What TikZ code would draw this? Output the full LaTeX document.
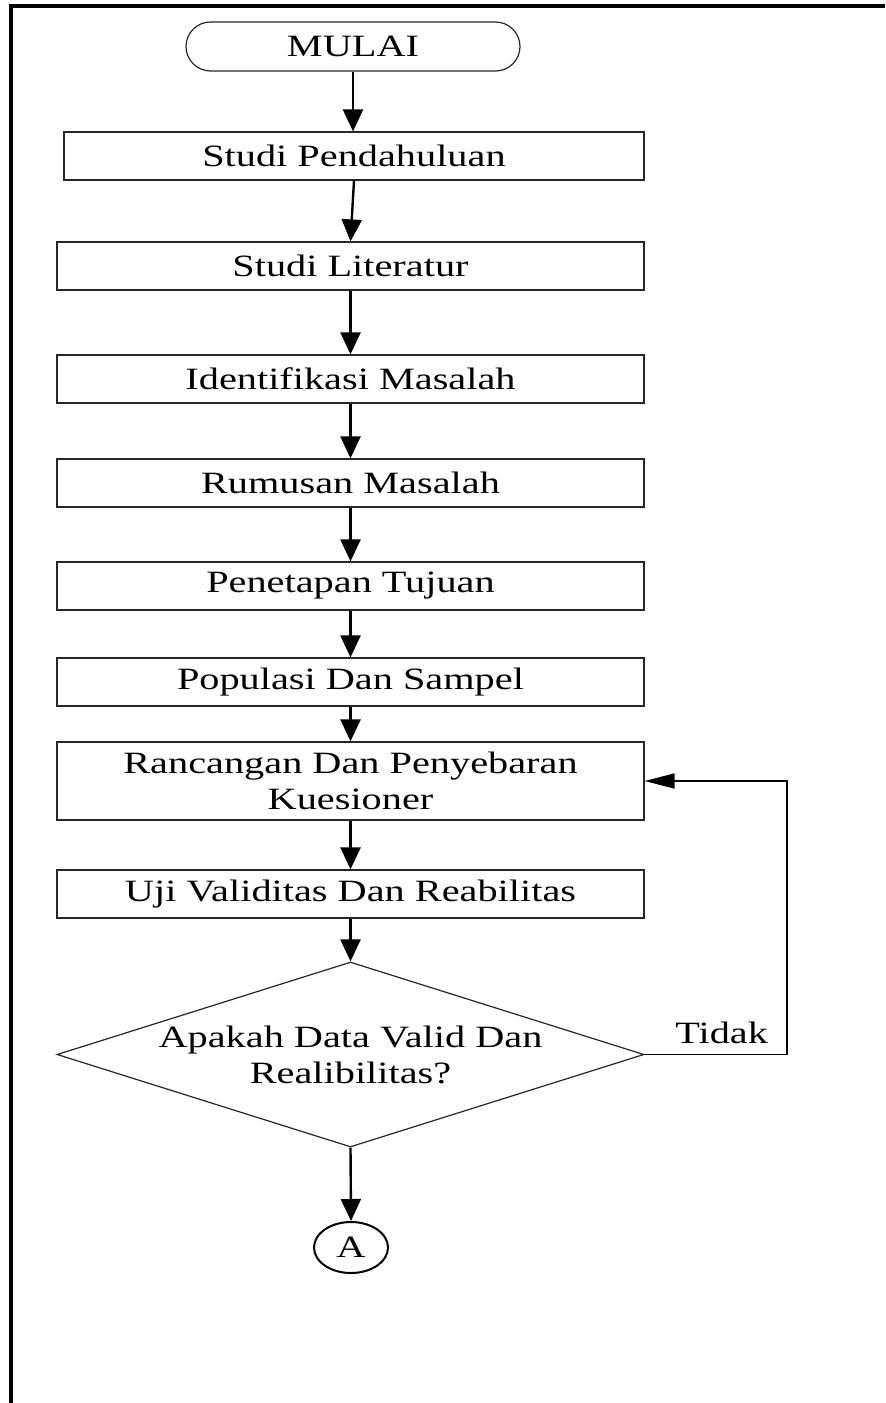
\documentclass[tikz,border=0pt]{standalone}
\usepackage{fontspec}
\setmainfont{Liberation Serif}[FakeStretch=1.3]
\usetikzlibrary{shapes.geometric,arrows.meta,calc}
\begin{document}
\begin{tikzpicture}[x=0.5pt,y=-0.5pt,
  every node/.style={font=\fontsize{15.5}{18}\selectfont},
  box/.style={draw=black!85,line width=0.6pt,rectangle,minimum width=293.5pt,minimum height=24pt,inner sep=0pt,align=center},
  term/.style={draw=black!85,line width=0.6pt,rectangle,rounded corners=12.25pt,minimum width=167pt,minimum height=24.5pt,inner sep=0pt},
  dec/.style={draw=black!85,line width=0.6pt,diamond,aspect=3.17,minimum width=293.5pt,minimum height=92.5pt,inner sep=0pt,align=center},
  conn/.style={draw=black,line width=1pt,ellipse,minimum width=37pt,minimum height=25.5pt,inner sep=0pt},
  flow/.style={-{Triangle[length=11pt,width=10pt]},line width=1.2pt},
  back/.style={-{Triangle[length=15pt,width=7.5pt]},line width=0.8pt}]
\useasboundingbox (0,0) rectangle (885,1403);
\draw[line width=2pt] (11,1403) -- (11,6) -- (885,6);
\node[term] (mulai) at (353,46.5) {MULAI};
\node[box,minimum width=290pt] (sp) at (354,156) {Studi Pendahuluan};
\node[box] (sl) at (350.5,266) {Studi Literatur};
\node[box] (im) at (350.5,379) {Identifikasi Masalah};
\node[box] (rm) at (350.5,483) {Rumusan Masalah};
\node[box] (pt) at (350.5,586) {Penetapan Tujuan};
\node[box] (ps) at (350.5,682) {Populasi Dan Sampel};
\node[box,minimum height=39pt] (rk) at (350.5,781) {Rancangan Dan Penyebaran\\Kuesioner};
\node[box] (uv) at (350.5,894) {Uji Validitas Dan Reabilitas};
\node[dec] (dv) at (350.5,1054.5) {Apakah Data Valid Dan\\Realibilitas?};
\node[conn] (a) at (351,1247.5) {A};
\draw[flow] (mulai.south) -- (mulai.south |- sp.north);
\draw[flow] (sp.south) -- (sl.north);
\draw[flow] (sl) -- (im);
\draw[flow] (im) -- (rm);
\draw[flow] (rm) -- (pt);
\draw[flow] (pt) -- (ps);
\draw[flow] (ps) -- (rk);
\draw[flow] (rk) -- (uv);
\draw[flow] (uv) -- (dv);
\draw[flow] (dv.south) -- (a.north);
\coordinate (c1) at (787,1054.5);
\coordinate (c2) at (787,781);
\draw[back] (dv.east) -- (c1) -- (c2) -- (rk.east);
\node[anchor=base east] (tidak) at (775,1043) {Tidak};
\end{tikzpicture}
\end{document}
